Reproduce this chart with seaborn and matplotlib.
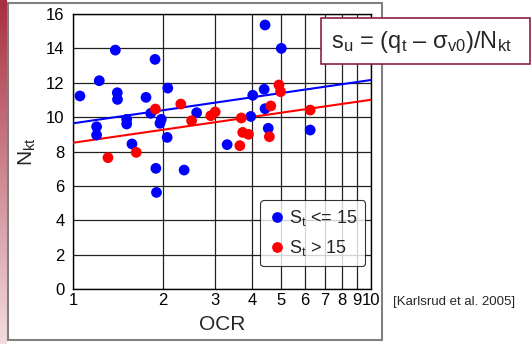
import numpy as np
import pandas as pd
import matplotlib
matplotlib.use('Agg')
import matplotlib.pyplot as plt
import matplotlib.patches as mpatches
from matplotlib.ticker import FixedLocator, NullLocator
import seaborn as sns

# data
blue_ocr = [1.055, 1.225, 1.387, 1.408, 1.41, 1.20, 1.20, 1.514, 1.514, 1.577,
            1.758, 1.885, 1.823, 1.978, 1.958, 2.08, 2.07, 2.60, 3.29, 3.95,
            4.01, 4.41, 5.0, 4.38, 4.41, 4.52, 6.25, 1.897, 1.906, 2.36]
blue_nkt = [11.23, 12.12, 13.9, 11.42, 11.03, 9.44, 8.96, 9.87, 9.6, 8.44,
            11.15, 13.36, 10.22, 9.87, 9.64, 11.69, 8.82, 10.26, 8.4, 10.04,
            11.27, 15.36, 14.0, 11.62, 10.49, 9.35, 9.25, 7.02, 5.62, 6.92]
red_ocr = [1.31, 1.63, 1.89, 2.30, 2.50, 2.90, 3.0, 3.63, 3.67, 3.71, 3.88,
           4.56, 4.61, 4.91, 4.97, 6.25]
red_nkt = [7.64, 7.95, 10.47, 10.76, 9.79, 10.08, 10.3, 8.34, 9.95, 9.11, 9.0,
           8.86, 10.65, 11.87, 11.48, 10.41]

# trend lines: Nkt = a + b*log10(OCR)
blue_fit = (9.64, 2.52)
red_fit = (8.51, 2.50)

labels = ['S$_\\mathregular{t}$ <= 15', 'S$_\\mathregular{t}$ > 15']
x_ticks = [1, 2, 3, 4, 5, 6, 7, 8, 9, 10]
y_ticks = [0, 2, 4, 6, 8, 10, 12, 14, 16]

df = pd.DataFrame({
    'OCR': blue_ocr + red_ocr,
    'Nkt': blue_nkt + red_nkt,
    'group': [labels[0]] * len(blue_ocr) + [labels[1]] * len(red_ocr),
})

sns.set_style('white')
plt.rcParams['font.family'] = ['Liberation Sans', 'DejaVu Sans']
plt.rcParams['mathtext.fontset'] = 'custom'
plt.rcParams['mathtext.rm'] = 'Liberation Sans'
plt.rcParams['mathtext.it'] = 'Liberation Sans'

fig = plt.figure(figsize=(5.32, 3.44), dpi=100)
ax = fig.add_axes([73 / 532, 1 - 289 / 344, 298 / 532, 275 / 344])

xs = np.array([1.0, 10.0])
lines = pd.DataFrame({
    'OCR': np.concatenate([xs, xs]),
    'Nkt': np.concatenate([blue_fit[0] + blue_fit[1] * np.log10(xs),
                           red_fit[0] + red_fit[1] * np.log10(xs)]),
    'group': [labels[0]] * 2 + [labels[1]] * 2,
})
pal = {labels[0]: '#0000ff', labels[1]: '#ff0000'}
sns.lineplot(data=lines, x='OCR', y='Nkt', hue='group', palette=pal,
             lw=1.5, legend=False, ax=ax, zorder=3)
sns.scatterplot(data=df, x='OCR', y='Nkt', hue='group', palette=pal,
                s=60, edgecolor='none', ax=ax, zorder=4)

ax.set_xscale('log')
ax.set_xlim(1, 10)
ax.set_ylim(0, 16)
ax.xaxis.set_major_locator(FixedLocator(x_ticks))
ax.xaxis.set_minor_locator(NullLocator())
ax.set_xticklabels([str(t) for t in x_ticks])
ax.set_yticks(y_ticks)
ax.grid(True, color='#222222', lw=0.9)
ax.set_axisbelow(True)
ax.tick_params(length=0, labelsize=12, colors='black')
ax.tick_params(axis='x', pad=3)
ax.tick_params(axis='y', pad=6)
for s in ax.spines.values():
    s.set_color('black')
    s.set_linewidth(1)
ax.set_xlabel('OCR', fontsize=15, labelpad=5)
ax.set_ylabel('N$_\\mathregular{kt}$', fontsize=15, labelpad=6)

leg = ax.legend(loc='upper left', bbox_to_anchor=(260 / 532, 1 - 200 / 344),
                bbox_transform=fig.transFigure, fontsize=13, frameon=True,
                fancybox=True, edgecolor='black', handletextpad=0.15,
                borderpad=0.45, labelspacing=0.55, markerscale=1.0,
                handlelength=1.0, borderaxespad=0)
leg.get_frame().set_linewidth(0.8)
leg.set_zorder(10)

# outer gray frame
fig.patches.append(mpatches.Rectangle((8 / 532, 1 - 340 / 344), 374 / 532, 337 / 344,
                                      transform=fig.transFigure, fill=False,
                                      edgecolor='#808080', lw=1.5))
# formula box
fig.patches.append(mpatches.Rectangle((321 / 532, 1 - 64 / 344), 209 / 532, 46 / 344,
                                      transform=fig.transFigure, facecolor='white',
                                      edgecolor='#8b2040', lw=1.2, zorder=20))
fig.text(421 / 532, 1 - 42 / 344,
         's$_\\mathregular{u}$ = (q$_\\mathregular{t}$ \u2013 \u03c3$_\\mathregular{v0}$)/N$_\\mathregular{kt}$',
         fontsize=17, ha='center', va='center', zorder=21)

fig.text(393 / 532, 1 - 302 / 344, '[Karlsrud et al. 2005]', fontsize=9.5,
         ha='left', va='center')

# slide edge strip
strip = fig.add_axes([0, 0, 7 / 532, 1])
grad = np.linspace(0, 1, 100).reshape(-1, 1)
strip.imshow(grad, aspect='auto', cmap=matplotlib.colors.LinearSegmentedColormap.from_list(
    'edge', ['#a83040', '#f3dce0']), extent=(0, 1, 0, 1), origin='upper')
strip.axis('off')

fig.savefig('out.png', dpi=100)
